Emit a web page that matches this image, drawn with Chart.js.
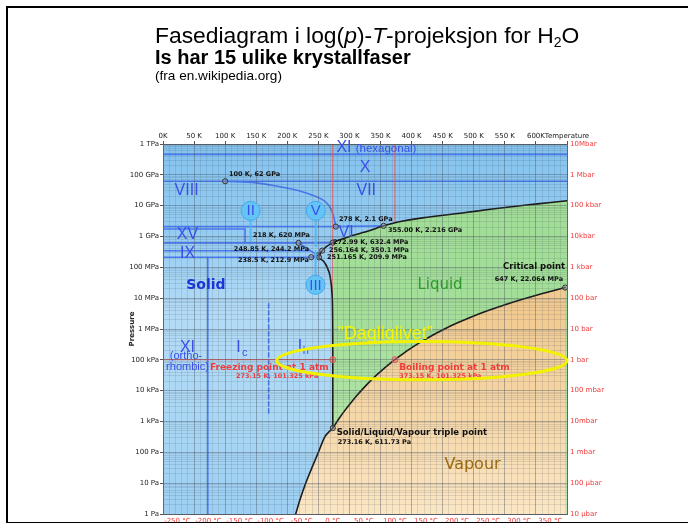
<!DOCTYPE html>
<html>
<head>
<meta charset="utf-8">
<script src="https://cdn.jsdelivr.net/npm/chart.js@4.4.1/dist/chart.umd.min.js"></script>
<style>
  html, body { margin: 0; padding: 0; background: #fff; }
  #page { position: relative; width: 688px; height: 524px; overflow: hidden; background: #fff; }
  #c { position: absolute; left: 0; top: 0; }
  .t { position: absolute; left: 155px; font-family: "Liberation Sans", Arial, sans-serif; color: #000; white-space: nowrap; line-height: 1; }
  #t1 { top: 24px; font-size: 22.85px; }
  #t1 sub { font-size: 14px; vertical-align: -4px; line-height: 0; }
  #t2 { top: 47px; font-size: 20px; font-weight: bold; }
  #t3 { top: 68.5px; font-size: 13.6px; }
  #frame { position: absolute; left: 6px; top: 6px; width: 720px; height: 514px;
           border-left: 2px solid #000; border-top: 2px solid #000; border-bottom: 2px solid #000; }
  #below { position: absolute; left: 0; top: 523px; width: 688px; height: 2px; background: #fff; }
</style>
</head>
<body>
<div id="page">
  <canvas id="c" width="688" height="524"></canvas>
  <div class="t" id="t1">Fasediagram i log(<i>p</i>)-<i>T</i>-projeksjon for H<sub>2</sub>O</div>
  <div class="t" id="t2">Is har 15 ulike krystallfaser</div>
  <div class="t" id="t3">(fra en.wikipedia.org)</div>
  <div id="frame"></div>
  <div id="below"></div>
</div>
<script>
// ---- axes -------------------------------------------------------------
const kelvinTicks = [0, 50, 100, 150, 200, 250, 300, 350, 400, 450, 500, 550, 600, 650];
const kelvinLabels = ['0K', '50 K', '100 K', '150 K', '200 K', '250 K', '300 K', '350 K',
                      '400 K', '450 K', '500 K', '550 K', '600K', 'Temperature'];
const celsiusTicks = [-250, -200, -150, -100, -50, 0, 50, 100, 150, 200, 250, 300, 350];
const pascalLabels = ['1 Pa', '10 Pa', '100 Pa', '1 kPa', '10 kPa', '100 kPa', '1 MPa',
                      '10 MPa', '100 MPa', '1 GPa', '10 GPa', '100 GPa', '1 TPa'];
const barLabels = ['10 \u00b5bar', '100 \u00b5bar', '1 mbar', '10mbar', '100 mbar', '1 bar',
                   '10 bar', '100 bar', '1 kbar', '10kbar', '100 kbar', '1 Mbar', '10Mbar'];

// ---- phase boundaries (T in K, p in Pa) -------------------------------
const sublimationT = [213.5, 221, 229.6, 240, 250, 260.7, 268, 273.16];
const sublimationP = [1, 3.2, 10, 33, 100, 327, 480, 611.73];
const boilingT = [283, 293, 303, 313, 323, 333, 343, 353, 363, 373.15, 393, 413, 433, 453,
                  473, 498, 523, 548, 573, 598, 623, 647];
const boilingP = [1228, 2339, 4246, 7384, 12350, 19940, 31190, 47390, 70140, 101325, 198500,
                  361400, 618100, 1002000, 1554000, 2548000, 3976000, 5942000, 8588000,
                  12040000, 16530000, 22064000];
const meltingT = [273.16, 273.15, 272.4, 269, 264.2, 258, 251.165, 256.164, 272.99, 300, 330,
                  355, 380, 420, 478, 530, 585, 620, 650];
const meltingP = [611.73, 101325, 10e6, 50e6, 100e6, 160e6, 209.9e6, 350.1e6, 632.4e6, 1.0e9,
                  1.5e9, 2.216e9, 3.0e9, 4.1e9, 5.7e9, 7.8e9, 10.5e9, 12.5e9, 14.5e9];
const viiiViiT = [100, 150, 188, 220, 247, 260, 268, 274, 278];
const viiiViiP = [62e9, 55e9, 41e9, 30e9, 19.5e9, 14e9, 9.3e9, 5e9, 2.1e9];

// straight ice boundaries: [T0, p0, T1, p1]
const iceSegments = [
  [0, 4.6e11, 650, 4.6e11],       // XI (hexagonal) / X
  [0, 62e9, 650, 62e9],           // X / VII, VIII
  [0, 2.1e9, 278, 2.1e9],         // VIII / VI, XV
  [278, 2.1e9, 355, 2.216e9],     // VII / VI
  [0, 1.76e9, 132, 1.76e9],       // XV upper
  [132, 1.76e9, 132, 620e6],      // XV / VI
  [0, 620e6, 218, 620e6],         // II / XV, VI
  [218, 620e6, 272.99, 632.4e6],  // V / VI
  [218, 620e6, 248.85, 244.2e6],  // II / V
  [0, 344e6, 237, 344e6],         // IX / II
  [0, 212.9e6, 238.5, 212.9e6],   // Ih, XI / II, IX
  [238.5, 212.9e6, 251.165, 209.9e6], // Ih / III
  [238.5, 212.9e6, 248.85, 244.2e6],  // II / III
  [248.85, 244.2e6, 256.164, 350.1e6],// III / V
  [72, 1, 72, 212.9e6]            // XI (orthorhombic) / Ih
];
const icIhT = [170, 170];
const icIhP = [1.9e3, 7.8e6];

// ---- labelled points --------------------------------------------------
const pointT = [100, 278, 355, 218, 248.85, 238.5, 272.99, 256.164, 251.165, 647, 273.16];
const pointP = [62e9, 2.1e9, 2.216e9, 620e6, 244.2e6, 212.9e6, 632.4e6, 350.1e6, 209.9e6,
                22.064e6, 611.73];
const pointLabels = ['100 K, 62 GPa', '278 K, 2.1 GPa', '355.00 K, 2.216 GPa', '218 K, 620 MPa',
                     '248.85 K, 244.2 MPa', '238.5 K, 212.9 MPa', '272.99 K, 632.4 MPa',
                     '256.164 K, 350.1 MPa', '251.165 K, 209.9 MPa', '647 K, 22.064 MPa',
                     '273.16 K, 611.73 Pa'];
const atmT = [273.15, 373.15];
const atmP = [101325, 101325];

// ---- helpers ----------------------------------------------------------
const pairs = (ts, ps) => ts.map((t, i) => ({x: t, y: ps[i]}));
const K0 = 273.15;
const BLUE_LINE = '#4a78f0';
const RED = '#f05a5a';
const tickFont = {family: '"DejaVu Sans", sans-serif', size: 7};

function vGrad(ctx, stops) {
  const a = ctx.chart.chartArea;
  if (!a) return stops[0][1];
  const g = ctx.chart.ctx.createLinearGradient(0, a.top, 0, a.bottom);
  stops.forEach(s => g.addColorStop(s[0], s[1]));
  return g;
}

const datasets = [];
// markers
datasets.push({data: pairs(pointT, pointP), showLine: false, pointRadius: 2.6,
  pointBackgroundColor: 'rgba(150,150,170,0.5)', pointBorderColor: '#333', pointBorderWidth: 1});
datasets.push({data: pairs(atmT, atmP), showLine: false, pointRadius: 3,
  pointBackgroundColor: 'rgba(255,120,120,0.5)', pointBorderColor: RED, pointBorderWidth: 1});
// vapour region below sublimation + boiling curve
datasets.push({data: pairs(sublimationT.concat(boilingT), sublimationP.concat(boilingP)),
  showLine: true, pointRadius: 0, borderColor: '#1a1a1a', borderWidth: 1.6, tension: 0.3,
  fill: 'start',
  backgroundColor: ctx => vGrad(ctx, [[0, '#f0c68a'], [0.45, '#f2ca90'], [0.75, '#f6d8aa'], [1, '#fbe6c4']])});
// liquid region below melting curve
datasets.push({data: pairs(meltingT, meltingP), showLine: true, pointRadius: 0,
  borderColor: '#1a1a1a', borderWidth: 1.6, tension: 0.25, fill: 'start',
  backgroundColor: ctx => vGrad(ctx, [[0, '#9fdc94'], [0.5, '#a5df9a'], [1, '#bfe9b3']])});
// red reference lines at 0 °C, 100 °C and 1 atm
datasets.push({data: [{x: 273.15, y: 1}, {x: 273.15, y: 1e12}], showLine: true, pointRadius: 0, borderColor: RED, borderWidth: 1});
datasets.push({data: [{x: 373.15, y: 1}, {x: 373.15, y: 1e12}], showLine: true, pointRadius: 0, borderColor: RED, borderWidth: 1});
datasets.push({data: [{x: 0, y: 101325}, {x: 650, y: 101325}], showLine: true, pointRadius: 0, borderColor: RED, borderWidth: 1});
// ice boundaries
datasets.push({data: pairs(viiiViiT, viiiViiP), showLine: true, pointRadius: 0, borderColor: BLUE_LINE, borderWidth: 1.6, tension: 0.35});
iceSegments.forEach(s => datasets.push({data: [{x: s[0], y: s[1]}, {x: s[2], y: s[3]}],
  showLine: true, pointRadius: 0, borderColor: BLUE_LINE, borderWidth: 1.6}));
datasets.push({data: pairs(icIhT, icIhP), showLine: true, pointRadius: 0, borderColor: BLUE_LINE,
  borderWidth: 1.6, borderDash: [4, 3]});

// decade and sub-decade pressures for the grid (fresh tick objects per axis)
const logValues = [];
for (let e = 0; e < 12; e++) for (let m = 1; m < 10; m++) logValues.push(m * Math.pow(10, e));
logValues.push(1e12);
const kelvinGrid = [];
for (let t = 0; t <= 650; t += 10) kelvinGrid.push(t);

const isDecade = v => Math.abs(Math.log10(v) - Math.round(Math.log10(v))) < 1e-9;
const MAJOR = 'rgba(70,80,95,0.40)';
const MINOR = 'rgba(70,80,95,0.15)';

const background = {
  id: 'background',
  beforeDraw(chart) {
    const {ctx, chartArea: a} = chart;
    const g = ctx.createLinearGradient(0, a.top, 0, a.bottom);
    g.addColorStop(0, '#84c3ef');
    g.addColorStop(0.25, '#95ccf1');
    g.addColorStop(0.45, '#b3dbf6');
    g.addColorStop(0.7, '#acd8f5');
    g.addColorStop(1, '#9ccff2');
    ctx.save();
    ctx.fillStyle = g;
    ctx.fillRect(a.left, a.top, a.right - a.left, a.bottom - a.top);
    ctx.restore();
  }
};

function txt(ctx, s, x, y, font, color, align) {
  ctx.font = font;
  ctx.fillStyle = color;
  ctx.textAlign = align || 'left';
  ctx.textBaseline = 'middle';
  ctx.fillText(s, x, y);
}

const annotations = {
  id: 'annotations',
  afterDraw(chart) {
    const {ctx, scales: {x, y}} = chart;
    const X = v => x.getPixelForValue(v);
    const Y = v => y.getPixelForValue(v);
    const roman = '16px "Liberation Sans", Arial, sans-serif';
    const NUM = '#3a4fe8';
    const small = 'bold 6.5px "DejaVu Sans", sans-serif';
    ctx.save();

    // callout bubbles for phases II, V and III
    const bubble = (label, t, p, tEnd, pEnd) => {
      ctx.strokeStyle = '#55b6f2';
      ctx.lineWidth = 2;
      ctx.beginPath();
      ctx.moveTo(X(t), Y(p));
      ctx.lineTo(X(tEnd), Y(pEnd));
      ctx.stroke();
      ctx.beginPath();
      ctx.arc(X(t), Y(p), 9.5, 0, Math.PI * 2);
      ctx.fillStyle = '#64c4f6';
      ctx.fill();
      ctx.lineWidth = 1;
      ctx.strokeStyle = '#45a9ea';
      ctx.stroke();
      txt(ctx, label, X(t), Y(p) + 0.5, '15px "Liberation Sans", Arial, sans-serif', NUM, 'center');
    };
    bubble('II', 141, 6.8e9, 141, 7.0e8);
    bubble('V', 245.7, 6.8e9, 245.7, 4.5e8);
    bubble('III', 245.4, 2.7e7, 245.4, 3.6e8);

    // phase names
    txt(ctx, 'XI', X(279), Y(7.4e11), roman, NUM);
    txt(ctx, '(hexagonal)', X(310), Y(7.2e11), '11.5px "Liberation Sans", Arial, sans-serif', NUM);
    txt(ctx, 'X', X(325), Y(1.67e11), roman, NUM, 'center');
    txt(ctx, 'VIII', X(38), Y(3.0e10), roman, NUM, 'center');
    txt(ctx, 'VII', X(327), Y(3.0e10), roman, NUM, 'center');
    txt(ctx, 'VI', X(294.5), Y(1.31e9), roman, NUM, 'center');
    txt(ctx, 'XV', X(39.4), Y(1.12e9), roman, NUM, 'center');
    txt(ctx, 'IX', X(39.4), Y(2.75e8), roman, NUM, 'center');
    txt(ctx, 'XI', X(39.4), Y(2.45e5), roman, NUM, 'center');
    txt(ctx, '(ortho-', X(37), Y(1.35e5), '11px "Liberation Sans", Arial, sans-serif', NUM, 'center');
    txt(ctx, 'rhombic)', X(39.4), Y(5.8e4), '11px "Liberation Sans", Arial, sans-serif', NUM, 'center');
    txt(ctx, 'I', X(118), Y(2.45e5), roman, NUM);
    txt(ctx, 'c', X(127), Y(1.7e5), '11px "Liberation Sans", Arial, sans-serif', NUM);
    txt(ctx, 'I', X(217), Y(2.6e5), roman, NUM);
    txt(ctx, 'h', X(225), Y(1.9e5), '11px "Liberation Sans", Arial, sans-serif', NUM);
    txt(ctx, 'Solid', X(69), Y(2.7e7), 'bold 14px "DejaVu Sans", sans-serif', '#1c33d6', 'center');
    txt(ctx, 'Liquid', X(445.7), Y(2.7e7), '15px "DejaVu Sans", sans-serif', '#2c9a2c', 'center');
    txt(ctx, 'Vapour', X(498), Y(39.8), '16px "DejaVu Sans", sans-serif', '#9a6a12', 'center');

    // labelled points (label anchor in K / Pa)
    const lpData = [[106, 1.07e11], [283, 3.7e9], [362, 1.63e9], [144.8, 1.12e9], [114, 3.95e8],
                    [120.7, 1.74e8], [273.5, 6.67e8], [267, 3.67e8], [264, 2.07e8]];
    lpData.forEach((d, i) => txt(ctx, pointLabels[i], X(d[0]), Y(d[1]), small, '#111'));

    txt(ctx, 'Critical point', X(646.8), Y(1.03e8), 'bold 8.5px "DejaVu Sans", sans-serif', '#111', 'right');
    txt(ctx, pointLabels[9], X(643.6), Y(4.2e7), small, '#111', 'right');
    txt(ctx, 'Solid/Liquid/Vapour triple point', X(279.4), Y(431), 'bold 8.5px "DejaVu Sans", sans-serif', '#111');
    txt(ctx, pointLabels[10], X(281), Y(204), small, '#111');

    txt(ctx, 'Freezing point at 1 atm', X(75.5), Y(5.6e4), 'bold 9px "DejaVu Sans", sans-serif', '#f03c3c');
    txt(ctx, '273.15 K, 101.325 kPa', X(117.5), Y(2.9e4), 'bold 6.5px "DejaVu Sans", sans-serif', '#f03c3c');
    txt(ctx, 'Boiling point at 1 atm', X(380), Y(5.6e4), 'bold 9px "DejaVu Sans", sans-serif', '#f03c3c');
    txt(ctx, '373.15 K, 101.325 kPa', X(380), Y(2.9e4), 'bold 6.5px "DejaVu Sans", sans-serif', '#f03c3c');

    // everyday conditions
    txt(ctx, '\u201dDagliglivet\u201d', X(281), Y(6.97e5), '18px "Liberation Sans", Arial, sans-serif', '#f4f400');
    const cx = (X(183) + X(650)) / 2, cy = (Y(3.93e5) + Y(2.25e4)) / 2;
    const rx = (X(650) - X(183)) / 2, ry = (Y(2.25e4) - Y(3.93e5)) / 2;
    ctx.beginPath();
    ctx.ellipse(cx, cy, rx, ry, 0, 0, Math.PI * 2);
    ctx.strokeStyle = '#f2f200';
    ctx.lineWidth = 3;
    ctx.stroke();
    ctx.restore();
  }
};

new Chart(document.getElementById('c'), {
  type: 'scatter',
  data: {datasets},
  plugins: [background, annotations],
  options: {
    responsive: false,
    animation: false,
    events: [],
    layout: {padding: {left: 120, right: 61, top: 128, bottom: 0}},
    plugins: {legend: {display: false}, tooltip: {enabled: false}},
    elements: {line: {borderCapStyle: 'round'}},
    scales: {
      x: {
        type: 'linear', position: 'top', min: 0, max: 650,
        afterBuildTicks: s => { s.ticks = kelvinGrid.map(v => ({value: v})); },
        afterFit: s => { s.height = 16; },
        ticks: {autoSkip: false, maxRotation: 0, padding: 1, font: tickFont, color: '#222',
          callback: v => { const i = kelvinTicks.indexOf(v); return i >= 0 ? kelvinLabels[i] : ''; }},
        grid: {z: 1, color: c => (c.tick && c.tick.value % 50 === 0) ? MAJOR : MINOR,
          tickLength: 3, tickColor: c => (c.tick && c.tick.value % 50 === 0) ? '#555' : 'rgba(0,0,0,0)'},
        border: {color: '#666', z: 1}
      },
      xC: {
        type: 'linear', position: 'bottom', min: 0, max: 650,
        afterBuildTicks: s => { s.ticks = celsiusTicks.map(c => ({value: c + K0})); },
        afterFit: s => { s.height = 10; },
        ticks: {autoSkip: false, maxRotation: 0, padding: 1, font: tickFont, color: '#f03c3c',
          callback: v => Math.round(v - K0) + ' \u00b0C'},
        grid: {display: false, tickLength: 2},
        border: {color: '#666', z: 1}
      },
      y: {
        type: 'logarithmic', position: 'left', min: 1, max: 1e12,
        afterBuildTicks: s => { s.ticks = logValues.map(v => ({value: v})); },
        afterFit: s => { s.width = 43; },
        ticks: {autoSkip: false, padding: 1, font: tickFont, color: '#222',
          callback: v => isDecade(v) ? pascalLabels[Math.round(Math.log10(v))] : ''},
        grid: {z: 1, color: c => (c.tick && isDecade(c.tick.value)) ? MAJOR : MINOR,
          tickLength: 3, tickColor: c => (c.tick && isDecade(c.tick.value)) ? '#555' : 'rgba(0,0,0,0)'},
        border: {color: '#666', z: 1},
        title: {display: true, text: 'Pressure', font: {family: '"DejaVu Sans", sans-serif', size: 7, weight: 'bold'},
          color: '#222', padding: {top: 8, bottom: 0}}
      },
      yBar: {
        type: 'logarithmic', position: 'right', min: 1, max: 1e12,
        afterBuildTicks: s => { s.ticks = logValues.filter(isDecade).map(v => ({value: v})); },
        afterFit: s => { s.width = 60; },
        ticks: {autoSkip: false, padding: 1, font: tickFont, color: '#f03c3c',
          callback: v => barLabels[Math.round(Math.log10(v))]},
        grid: {display: false, tickLength: 2},
        border: {color: '#666', z: 1}
      }
    }
  }
});
</script>
</body>
</html>
